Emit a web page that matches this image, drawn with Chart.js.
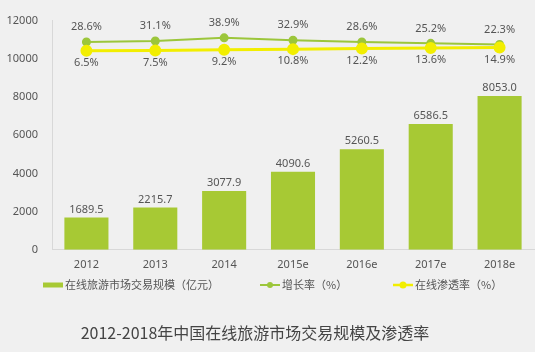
<!DOCTYPE html>
<html lang="zh">
<head>
<meta charset="UTF-8">
<title>2012-2018年中国在线旅游市场交易规模及渗透率</title>
<script src="https://cdn.jsdelivr.net/npm/chart.js@4"></script>
<style>
  html, body { margin: 0; padding: 0; background: #f0f0f0; }
  canvas { display: block; }
</style>
</head>
<body>
<canvas id="travelChart" width="535" height="352"></canvas>
<script>
// data
var years = ['2012', '2013', '2014', '2015e', '2016e', '2017e', '2018e'];
var marketSize = [1689.5, 2215.7, 3077.9, 4090.6, 5260.5, 6586.5, 8053.0];   // 亿元
var growthRate = [28.6, 31.1, 38.9, 32.9, 28.6, 25.2, 22.3];                 // %
var penetration = [6.5, 7.5, 9.2, 10.8, 12.2, 13.6, 14.9];                   // %
var yTicks = [0, 2000, 4000, 6000, 8000, 10000, 12000];

var chartTitle = '2012-2018年中国在线旅游市场交易规模及渗透率';
var legendNames = ['在线旅游市场交易规模（亿元）', '增长率（%）', '在线渗透率（%）'];

var colors = {
  bar: '#a7c934',
  growth: '#9cc63b',
  pen: '#f2ee00',
  text: '#555555',
  axis: '#d8d8d8'
};

Chart.defaults.font.family = "'Noto Sans', 'Noto Sans CJK SC', sans-serif";
Chart.defaults.font.size = 11;
Chart.defaults.color = colors.text;

// value labels on bars and points
var valueLabels = {
  id: 'valueLabels',
  afterDatasetsDraw: function(chart) {
    var ctx = chart.ctx;
    ctx.save();
    ctx.font = "11px 'Noto Sans', 'Noto Sans CJK SC', sans-serif";
    ctx.fillStyle = colors.text;
    ctx.textAlign = 'center';
    ctx.textBaseline = 'middle';
    chart.data.datasets.forEach(function(ds, di) {
      var meta = chart.getDatasetMeta(di);
      meta.data.forEach(function(el, i) {
        var v = ds.data[i];
        if (di === 0) {
          ctx.fillText(v.toFixed(1), el.x, el.y - 8);
        } else if (di === 1) {
          ctx.fillText(v.toFixed(1) + '%', el.x, el.y - 15);
        } else {
          ctx.fillText(v.toFixed(1) + '%', el.x, el.y + 12);
        }
      });
    });
    ctx.restore();
  }
};

// legend + title drawn below the axis
var bottomText = {
  id: 'bottomText',
  afterDraw: function(chart) {
    var ctx = chart.ctx;
    var ly = 285;
    ctx.save();
    ctx.font = "11px 'Noto Sans CJK SC', 'Noto Sans', sans-serif";
    ctx.fillStyle = colors.text;
    ctx.textAlign = 'left';
    ctx.textBaseline = 'middle';

    // bar item
    ctx.fillStyle = colors.bar;
    ctx.fillRect(43, ly - 2.5, 20, 5);
    ctx.fillStyle = colors.text;
    ctx.fillText(legendNames[0], 65, ly);

    // line items
    var items = [[260, colors.growth, 2, 3], [393, colors.pen, 2.5, 3.5]];
    items.forEach(function(it, k) {
      var x = it[0];
      ctx.strokeStyle = it[1];
      ctx.lineWidth = it[2];
      ctx.beginPath();
      ctx.moveTo(x, ly);
      ctx.lineTo(x + 20, ly);
      ctx.stroke();
      ctx.fillStyle = it[1];
      ctx.beginPath();
      ctx.arc(x + 10, ly, it[3], 0, Math.PI * 2);
      ctx.fill();
      ctx.fillStyle = colors.text;
      ctx.fillText(legendNames[k + 1], x + 22, ly);
    });

    ctx.font = "16px 'Noto Sans CJK SC', 'Noto Sans', sans-serif";
    ctx.fillStyle = '#444444';
    ctx.textAlign = 'center';
    ctx.fillText(chartTitle, 255, 333);
    ctx.restore();
  }
};

var config = {
  data: {
    labels: years,
    datasets: [
      {
        type: 'bar',
        label: legendNames[0],
        data: marketSize,
        backgroundColor: colors.bar,
        categoryPercentage: 1,
        barPercentage: 0.64,
        yAxisID: 'y',
        order: 3
      },
      {
        type: 'line',
        label: legendNames[1],
        data: growthRate,
        borderColor: colors.growth,
        backgroundColor: colors.growth,
        borderWidth: 2,
        pointRadius: 3.5,
        pointHoverRadius: 3.5,
        fill: false,
        yAxisID: 'y1',
        order: 2
      },
      {
        type: 'line',
        label: legendNames[2],
        data: penetration,
        borderColor: colors.pen,
        backgroundColor: colors.pen,
        borderWidth: 3,
        pointRadius: 4.5,
        pointHoverRadius: 4.5,
        fill: false,
        yAxisID: 'y1',
        order: 1
      }
    ]
  },
  options: {
    responsive: false,
    animation: false,
    layout: {
      autoPadding: false,
      padding: { left: 6, right: 1, top: 20, bottom: 73 }
    },
    scales: {
      x: {
        grid: { display: false, drawTicks: false },
        border: { display: true, color: colors.axis },
        ticks: { padding: 8, color: colors.text }
      },
      y: {
        min: 0,
        max: 12000,
        afterBuildTicks: function(axis) {
          axis.ticks = yTicks.map(function(v) { return { value: v }; });
        },
        afterFit: function(axis) {
          axis.width = 46;   // labels end ~14px left of the axis line
        },
        grid: { display: false, drawTicks: false },
        border: { display: true, color: colors.axis },
        ticks: {
          padding: 14,
          color: colors.text,
          callback: function(v) { return String(v); }
        }
      },
      y1: {
        // hidden scale that places the two rate lines near the top
        display: false,
        min: -490,
        max: 82
      }
    },
    plugins: {
      legend: { display: false },
      title: { display: false },
      tooltip: { enabled: false }
    }
  },
  plugins: [valueLabels, bottomText]
};

window.onload = function() {
  var ctx = document.getElementById('travelChart').getContext('2d');
  window.myChart = new Chart(ctx, config);
};
</script>
</body>
</html>
